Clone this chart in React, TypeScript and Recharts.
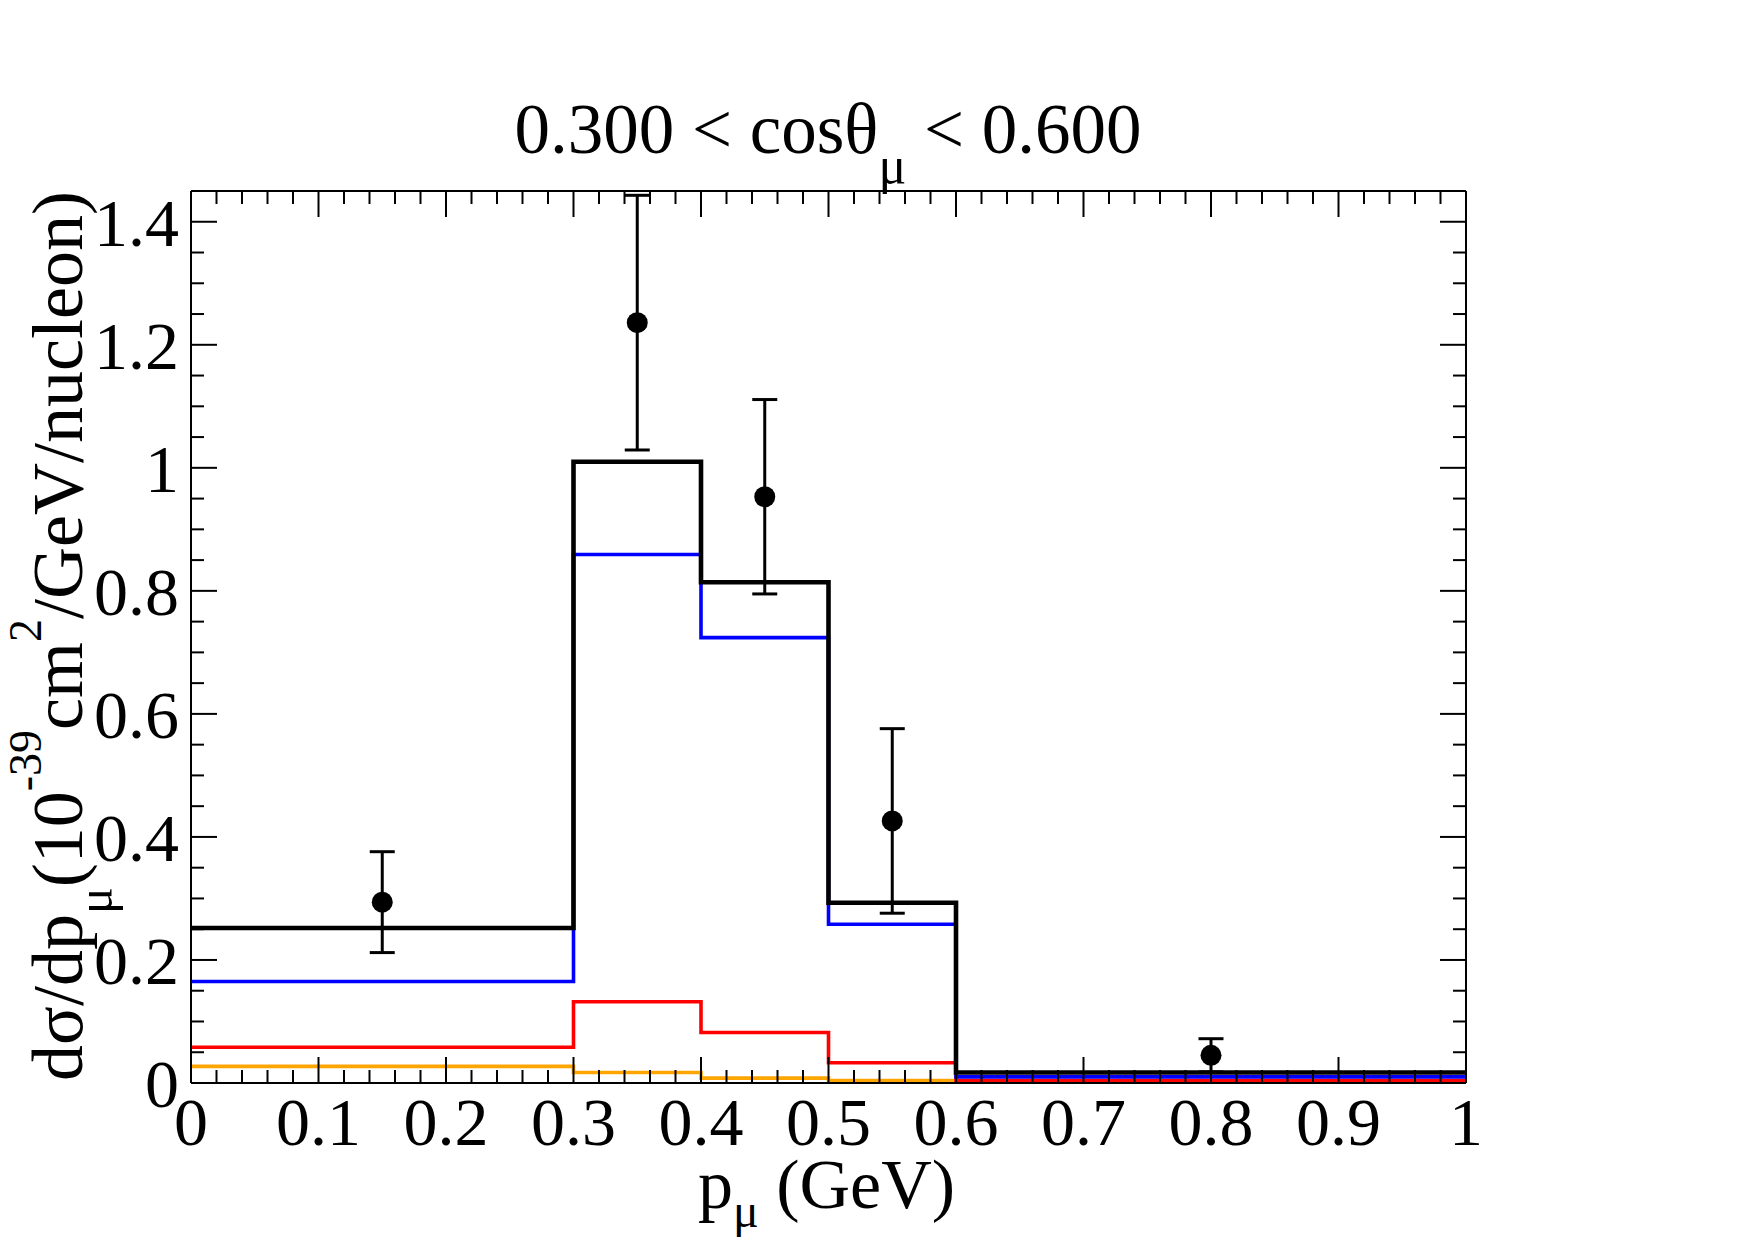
import React from "react";
import {
  ComposedChart,
  Line,
  Scatter,
  ErrorBar,
  XAxis,
  YAxis,
} from "recharts";

// bin edges in p_mu (GeV) and the model curves per bin
const binEdges = [0, 0.3, 0.4, 0.5, 0.6, 1.0];
const totalXsec = [0.252, 1.01, 0.814, 0.293, 0.017];
const blueXsec = [0.165, 0.859, 0.724, 0.258, 0.01];
const redXsec = [0.058, 0.132, 0.082, 0.033, 0.004];
const orangeXsec = [0.027, 0.017, 0.008, 0.004, 0.001];

// measured points
const dataX = [0.15, 0.35, 0.45, 0.55, 0.8];
const dataY = [0.294, 1.236, 0.953, 0.426, 0.045];
const dataErr = [0.082, 0.207, 0.158, 0.15, 0.027];

// axis ticks
const xMajor = [0, 0.1, 0.2, 0.3, 0.4, 0.5, 0.6, 0.7, 0.8, 0.9, 1];
const xLabels = ["0", "0.1", "0.2", "0.3", "0.4", "0.5", "0.6", "0.7", "0.8", "0.9", "1"];
const yMajor = [0, 0.2, 0.4, 0.6, 0.8, 1.0, 1.2, 1.4];
const yLabels = ["0", "0.2", "0.4", "0.6", "0.8", "1", "1.2", "1.4"];

const xTicks = Array.from({ length: 51 }, (_, i) => +(i * 0.02).toFixed(2));
const yTicks = Array.from({ length: 30 }, (_, i) => +(i * 0.05).toFixed(2));

// step rows: last bin value repeated at the closing edge
const histRows = binEdges.map((x, i) => {
  const k = Math.min(i, totalXsec.length - 1);
  return {
    x,
    total: totalXsec[k],
    blue: blueXsec[k],
    red: redXsec[k],
    orange: orangeXsec[k],
  };
});

const points = dataX.map((x, i) => ({ x, y: dataY[i], err: dataErr[i] }));

const FONT = "'Liberation Serif', 'Times New Roman', serif";
const MAJOR_LEN = 26;
const MINOR_LEN = 13;

const majorIndex = (list: number[], v: number) =>
  list.findIndex((m) => Math.abs(m - v) < 1e-6);

const BottomTick = ({ x, y, payload }: any) => {
  const i = majorIndex(xMajor, payload.value);
  const len = i >= 0 ? MAJOR_LEN : MINOR_LEN;
  return (
    <g>
      <line x1={x} y1={y} x2={x} y2={y - len} stroke="#000" strokeWidth={2} />
      {i >= 0 && (
        <text x={x} y={y + 62} textAnchor="middle" fontSize={68} fontFamily={FONT} fill="#000">
          {xLabels[i]}
        </text>
      )}
    </g>
  );
};

const TopTick = ({ x, y, payload }: any) => {
  const len = majorIndex(xMajor, payload.value) >= 0 ? MAJOR_LEN : MINOR_LEN;
  return <line x1={x} y1={y} x2={x} y2={y + len} stroke="#000" strokeWidth={2} />;
};

const LeftTick = ({ x, y, payload }: any) => {
  const i = majorIndex(yMajor, payload.value);
  const len = i >= 0 ? MAJOR_LEN : MINOR_LEN;
  return (
    <g>
      <line x1={x} y1={y} x2={x + len} y2={y} stroke="#000" strokeWidth={2} />
      {i >= 0 && (
        <text x={x - 12} y={y} dy="0.35em" textAnchor="end" fontSize={68} fontFamily={FONT} fill="#000">
          {yLabels[i]}
        </text>
      )}
    </g>
  );
};

const RightTick = ({ x, y, payload }: any) => {
  const len = majorIndex(yMajor, payload.value) >= 0 ? MAJOR_LEN : MINOR_LEN;
  return <line x1={x} y1={y} x2={x - len} y2={y} stroke="#000" strokeWidth={2} />;
};

const Dot = (p: any) => <circle cx={p.cx} cy={p.cy} r={10.5} fill="#000" />;

const frame = { stroke: "#000", strokeWidth: 2 };

export default function App() {
  return (
    <div style={{ position: "absolute", left: 0, top: 0, width: 1755, height: 1240, background: "#fff" }}>
      <ComposedChart
        width={1755}
        height={1240}
        data={histRows}
        margin={{ top: 181, right: 279, bottom: 97, left: 91 }}
      >
        <XAxis
          xAxisId="b"
          dataKey="x"
          type="number"
          domain={[0, 1]}
          ticks={xTicks}
          interval={0}
          tick={<BottomTick />}
          tickLine={false}
          tickSize={0}
          tickMargin={0}
          axisLine={frame}
          height={60}
          allowDataOverflow
        />
        <XAxis
          xAxisId="t"
          orientation="top"
          dataKey="x"
          type="number"
          domain={[0, 1]}
          ticks={xTicks}
          interval={0}
          tick={<TopTick />}
          tickLine={false}
          tickSize={0}
          tickMargin={0}
          axisLine={frame}
          height={10}
          allowDataOverflow
        />
        <YAxis
          yAxisId="l"
          type="number"
          domain={[0, 1.45]}
          ticks={yTicks}
          interval={0}
          tick={<LeftTick />}
          tickLine={false}
          tickSize={0}
          tickMargin={0}
          axisLine={frame}
          width={100}
          allowDataOverflow
        />
        <YAxis
          yAxisId="r"
          orientation="right"
          type="number"
          domain={[0, 1.45]}
          ticks={yTicks}
          interval={0}
          tick={<RightTick />}
          tickLine={false}
          tickSize={0}
          tickMargin={0}
          axisLine={frame}
          width={10}
          allowDataOverflow
        />
        <Line xAxisId="b" yAxisId="l" type="stepAfter" dataKey="orange" stroke="#ffa500" strokeWidth={3.6} dot={false} isAnimationActive={false} />
        <Line xAxisId="b" yAxisId="l" type="stepAfter" dataKey="red" stroke="#ff0000" strokeWidth={3.6} dot={false} isAnimationActive={false} />
        <Line xAxisId="b" yAxisId="l" type="stepAfter" dataKey="blue" stroke="#0000ff" strokeWidth={3.6} dot={false} isAnimationActive={false} />
        <Line xAxisId="b" yAxisId="l" type="stepAfter" dataKey="total" stroke="#000" strokeWidth={4.6} dot={false} isAnimationActive={false} />
        <Scatter xAxisId="b" yAxisId="l" data={points} dataKey="y" shape={<Dot />} isAnimationActive={false}>
          <ErrorBar dataKey="err" direction="y" width={12.5} stroke="#000" strokeWidth={3} />
        </Scatter>
      </ComposedChart>

      <svg
        width={1755}
        height={1240}
        style={{ position: "absolute", left: 0, top: 0, pointerEvents: "none" }}
        fontFamily={FONT}
        fill="#000"
      >
        <text x={828} y={153} textAnchor="middle" fontSize={71}>
          0.300 &lt; cosθ
          <tspan dy={30} fontSize={52}>μ</tspan>
          <tspan dy={-30}> &lt; 0.600</tspan>
        </text>
        <text x={698} y={1208} fontSize={70}>
          p
          <tspan dy={19} fontSize={48}>μ</tspan>
          <tspan dy={-19}> (GeV)</tspan>
        </text>
        <text transform="rotate(-90)" x={-636} y={82} textAnchor="middle" fontSize={72}>
          dσ/dp
          <tspan dy={30} fontSize={50}>μ</tspan>
          <tspan dy={-30}>(10</tspan>
          <tspan dy={-41} fontSize={46}>-39</tspan>
          <tspan dy={41}>cm</tspan>
          <tspan dy={-41} fontSize={46}>2</tspan>
          <tspan dy={41}>/GeV/nucleon)</tspan>
        </text>
      </svg>
    </div>
  );
}
